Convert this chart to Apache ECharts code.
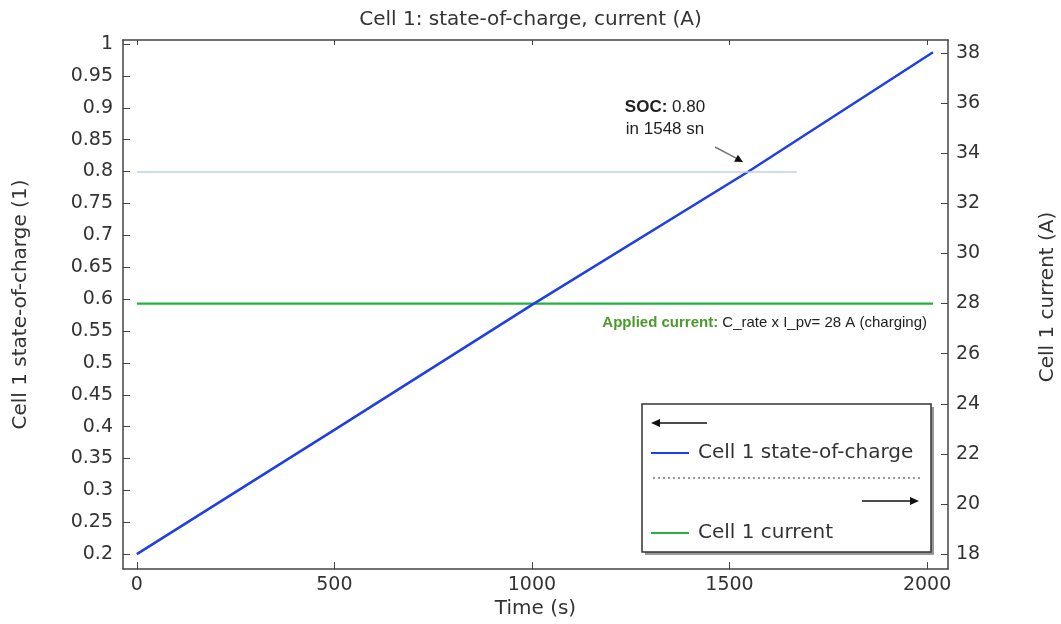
<!DOCTYPE html>
<html>
<head>
<meta charset="utf-8">
<script src="https://cdn.jsdelivr.net/npm/echarts@6/dist/echarts.min.js"></script>
<style>
  html, body { margin: 0; padding: 0; background: #fff; }
  #chart { width: 1061px; height: 624px; }
</style>
</head>
<body>
<div id="chart"></div>
<script>
// 数据
const timeS = [0, 500, 1000, 1548, 2015];
const soc = [0.2, 0.395, 0.591, 0.8, 0.987];
const currentTime = [0, 2015];
const currentA = [28, 28];
const socRef = 0.8;
const socRefEnd = 1670;
const xTicks = [0, 500, 1000, 1500, 2000];
const socTicks = [0.2, 0.25, 0.3, 0.35, 0.4, 0.45, 0.5, 0.55, 0.6, 0.65, 0.7, 0.75, 0.8, 0.85, 0.9, 0.95, 1];
const currentTicks = [18, 20, 22, 24, 26, 28, 30, 32, 34, 36, 38];

const axisColor = '#444';
const font = 'DejaVu Sans';

let myChart = echarts.init(document.getElementById('chart'));

let socData = timeS.map((t, i) => [t, soc[i]]);
let curData = currentTime.map((t, i) => [t, currentA[i]]);
let plain = v => String(v);

let option = {
    animation: false,
    textStyle: { fontFamily: font },
    title: {
        text: 'Cell 1: state-of-charge, current (A)',
        left: 'center',
        top: 5,
        textStyle: { fontSize: 20, fontWeight: 'normal', color: '#333', fontFamily: font }
    },
    grid: { left: 123, right: 113, top: 40, bottom: 53 },
    legend: {
        orient: 'vertical',
        left: 651,
        top: 442,
        padding: 0,
        itemGap: 58,
        itemWidth: 38,
        itemHeight: 2,
        icon: 'rect',
        selectedMode: false,
        textStyle: { fontSize: 20, color: '#333', lineHeight: 22, fontFamily: font, padding: [0, 0, 0, 4] },
        data: ['Cell 1 state-of-charge', 'Cell 1 current']
    },
    xAxis: [{
        type: 'value',
        min: -35,
        max: 2053,
        name: 'Time (s)',
        nameLocation: 'middle',
        nameGap: 26,
        nameTextStyle: { fontSize: 20, color: '#333' },
        axisLine: { show: true, onZero: false, lineStyle: { color: axisColor, width: 1.5 } },
        axisTick: { inside: true, length: 7, lineStyle: { color: axisColor }, customValues: xTicks },
        axisLabel: { fontSize: 19, color: '#333', margin: 6, formatter: plain, customValues: xTicks },
        splitLine: { show: false }
    }, {
        type: 'value',
        position: 'top',
        min: -35,
        max: 2053,
        axisLine: { show: true, onZero: false, lineStyle: { color: axisColor, width: 1.5 } },
        axisTick: { inside: true, length: 5, lineStyle: { color: axisColor }, customValues: xTicks },
        axisLabel: { show: false },
        splitLine: { show: false }
    }],
    yAxis: [{
        type: 'value',
        min: 0.1766,
        max: 1.0063,
        name: 'Cell 1 state-of-charge (1)',
        nameLocation: 'middle',
        nameGap: 92,
        nameTextStyle: { fontSize: 20, color: '#333' },
        axisLine: { show: true, onZero: false, lineStyle: { color: axisColor, width: 1.5 } },
        axisTick: { inside: true, length: 7, lineStyle: { color: axisColor }, customValues: socTicks },
        axisLabel: { fontSize: 19, color: '#333', margin: 10, formatter: plain, customValues: socTicks },
        splitLine: { show: false }
    }, {
        type: 'value',
        position: 'right',
        min: 17.4,
        max: 38.52,
        axisLine: { show: true, onZero: false, lineStyle: { color: axisColor, width: 1.5 } },
        axisTick: { inside: true, length: 7, lineStyle: { color: axisColor }, customValues: currentTicks },
        axisLabel: { fontSize: 19, color: '#333', margin: 8, formatter: plain, customValues: currentTicks },
        splitLine: { show: false }
    }],
    series: [
        {
            name: 'Cell 1 state-of-charge',
            type: 'line',
            xAxisIndex: 0,
            yAxisIndex: 0,
            showSymbol: false,
            lineStyle: { color: '#1f3fe6', width: 2.5 },
            itemStyle: { color: '#1f3fe6' },
            data: socData,
            markLine: {
                silent: true,
                symbol: 'none',
                label: { show: false },
                lineStyle: { color: '#bcd0f0', width: 1.5, type: 'solid' },
                data: [[{ coord: [0, socRef] }, { coord: [socRefEnd, socRef] }]]
            },
            z: 3
        },
        {
            name: 'Cell 1 current',
            type: 'line',
            xAxisIndex: 0,
            yAxisIndex: 1,
            showSymbol: false,
            lineStyle: { color: '#23b23a', width: 2.2 },
            itemStyle: { color: '#23b23a' },
            data: curData,
            z: 2
        }
    ],
    graphic: [
        // 图例框
        { type: 'rect', shape: { x: 645, y: 407, width: 289, height: 148 }, style: { fill: '#999' }, z: 0 },
        { type: 'rect', shape: { x: 642, y: 404, width: 289, height: 148 }, style: { fill: '#fff', stroke: '#333', lineWidth: 1.5 }, z: 1 },
        { type: 'line', shape: { x1: 656, y1: 423, x2: 707, y2: 423 }, style: { stroke: '#111', lineWidth: 1.5 }, z: 5 },
        { type: 'polygon', shape: { points: [[651, 423], [660, 419], [660, 427]] }, style: { fill: '#111' }, z: 5 },
        { type: 'line', shape: { x1: 653, y1: 478, x2: 920, y2: 478 }, style: { stroke: '#777', lineWidth: 1.5, lineDash: [2, 3] }, z: 5 },
        { type: 'line', shape: { x1: 862, y1: 501, x2: 914, y2: 501 }, style: { stroke: '#111', lineWidth: 1.5 }, z: 5 },
        { type: 'polygon', shape: { points: [[919, 501], [910, 497], [910, 505]] }, style: { fill: '#111' }, z: 5 },
        // SOC 标注
        {
            type: 'text', x: 665, y: 118, z: 6,
            style: {
                text: '{b|SOC:} 0.80\nin 1548 sn',
                align: 'center', verticalAlign: 'middle',
                font: '17px "Liberation Sans"', fill: '#222', lineHeight: 22,
                rich: { b: { fontWeight: 'bold', fontSize: 17, fontFamily: 'Liberation Sans', fill: '#222' } }
            }
        },
        { type: 'line', shape: { x1: 715, y1: 147, x2: 737, y2: 158.7 }, style: { stroke: '#777', lineWidth: 1.5 }, z: 6 },
        { type: 'polygon', shape: { points: [[743, 162], [734.1, 161.7], [737.9, 154.7]] }, style: { fill: '#111' }, z: 6 },
        // 电流标注
        {
            type: 'text', x: 927, y: 323, z: 6,
            style: {
                text: '{g|Applied current:} C_rate x I_pv= 28 A (charging)',
                align: 'right', verticalAlign: 'middle',
                font: '15px "Liberation Sans"', fill: '#222',
                rich: { g: { fontWeight: 'bold', fontSize: 15, fontFamily: 'Liberation Sans', fill: '#4a9a2c' } }
            }
        },
        // 右轴标题
        {
            type: 'text', x: 1048, y: 297, rotation: Math.PI / 2, z: 6,
            style: {
                text: 'Cell 1 current (A)',
                align: 'center', verticalAlign: 'middle',
                font: '20px "DejaVu Sans"', fill: '#333'
            }
        }
    ]
};
myChart.setOption(option);
</script>
</body>
</html>
